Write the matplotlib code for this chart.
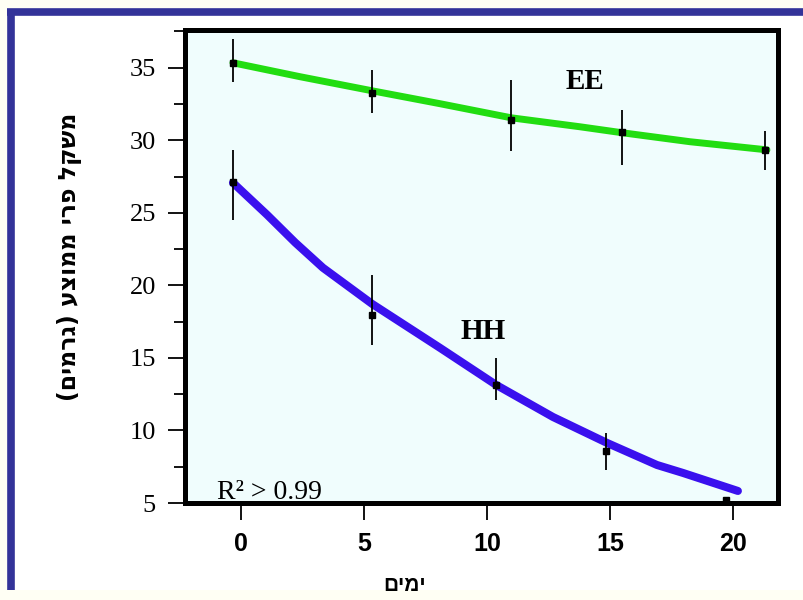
import matplotlib
matplotlib.use("Agg")
import matplotlib.pyplot as plt
from matplotlib.lines import Line2D
from matplotlib.ticker import MultipleLocator

# ---- data ----
ee_days = [-0.33, 5.33, 10.98, 15.5, 21.3]
ee_vals = [35.34, 33.28, 31.41, 30.59, 29.34]
ee_err_lo = [1.31, 1.38, 2.14, 2.28, 1.38]
ee_err_hi = [1.66, 1.59, 2.76, 1.52, 1.31]

hh_days = [-0.33, 5.33, 10.37, 14.84, 19.7]
hh_vals = [27.14, 17.97, 13.14, 8.59, 5.2]
hh_err_lo = [2.62, 2.07, 1.03, 1.31, 0.0]
hh_err_hi = [2.21, 2.76, 1.86, 1.24, 0.0]

ee_fit_x = [-0.33, 2.40, 5.33, 8.09, 10.98, 13.78, 15.49, 18.25, 21.38]
ee_fit_y = [35.34, 34.38, 33.41, 32.52, 31.55, 30.93, 30.52, 29.90, 29.34]

hh_fit_x = [-0.33, 1.06, 2.20, 3.33, 5.33, 8.09, 10.37, 12.68, 14.88, 16.91, 17.97, 20.20]
hh_fit_y = [27.07, 24.86, 22.95, 21.21, 18.72, 15.69, 13.14, 10.93, 9.14, 7.62, 7.07, 5.83]

x_ticks = [0, 5, 10, 15, 20]
y_ticks = [5, 10, 15, 20, 25, 30, 35]

y_label = "משקל פרי ממוצע (גרמים)"
x_label = "ימים"
r2_text = "R² > 0.99"


def visual(s):
    """Logical RTL Hebrew -> visual LTR order for matplotlib."""
    swap = {"(": ")", ")": "("}
    return "".join(swap.get(c, c) for c in s[::-1])


fig = plt.figure(figsize=(8.04, 6.0), dpi=100, facecolor="#fffff4")
# inner white panel
fig.patches.append(plt.Rectangle((15 / 804, 10 / 600), 1.0, 575 / 600,
                                 transform=fig.transFigure, facecolor="white",
                                 edgecolor="none", zorder=-5))
# navy frame (left and top)
navy = "#333399"
fig.add_artist(Line2D([11 / 804, 11 / 804], [10 / 600, 588.5 / 600],
                      transform=fig.transFigure, color=navy, lw=5.5,
                      solid_capstyle="butt", zorder=-4))
fig.add_artist(Line2D([7 / 804, 1.0], [588.5 / 600, 588.5 / 600],
                      transform=fig.transFigure, color=navy, lw=5.5,
                      solid_capstyle="butt", zorder=-4))

ax = fig.add_axes([185 / 804, 97 / 600, (778 - 185) / 804, (503 - 30) / 600])
ax.set_zorder(1)
ax.set_facecolor("#f0fdfd")
ax.set_xlim(-2.28, 21.83)
ax.set_ylim(5, 37.6)

for sp in ax.spines.values():
    sp.set_linewidth(3.6)
    sp.set_color("black")

ax.plot(ee_fit_x, ee_fit_y, color="#22dd11", lw=5.0, solid_capstyle="round",
        solid_joinstyle="round", zorder=3)
ax.plot(hh_fit_x, hh_fit_y, color="#3a10ee", lw=5.8, solid_capstyle="round",
        solid_joinstyle="round", zorder=3)

ax.errorbar(ee_days, ee_vals, yerr=[ee_err_lo, ee_err_hi], fmt="s", color="black",
            ms=4.5, elinewidth=1.3, capsize=0, zorder=4, clip_on=False)
ax.errorbar(hh_days, hh_vals, yerr=[hh_err_lo, hh_err_hi], fmt="s", color="black",
            ms=4.5, elinewidth=1.3, capsize=0, zorder=4, clip_on=False)

ax.set_xticks(x_ticks)
ax.set_yticks(y_ticks)
ax.yaxis.set_minor_locator(MultipleLocator(2.5))
ax.tick_params(axis="y", which="major", direction="out", length=12, width=1.3,
               pad=9, labelsize=19)
ax.tick_params(axis="y", which="minor", direction="out", length=8, width=1.3)
ax.tick_params(axis="x", which="major", direction="out", length=12, width=1.3,
               pad=9, labelsize=18)
for lab in ax.get_yticklabels():
    lab.set_fontfamily("Liberation Serif")
for lab in ax.get_xticklabels():
    lab.set_fontfamily("Liberation Sans")
    lab.set_fontweight("bold")

ax.text(13.98, 34.03, "EE", fontsize=21, fontweight="bold",
        family="Liberation Serif", ha="center", va="center", zorder=5)
ax.text(9.84, 16.79, "HH", fontsize=21, fontweight="bold",
        family="Liberation Serif", ha="center", va="center", zorder=5)
ax.text(-0.98, 5.3, r2_text, fontsize=20, family="Liberation Serif",
        ha="left", va="baseline", zorder=5)

fig.text(0.087, 0.572, visual(y_label), rotation=90, ha="center", va="center",
         fontsize=17, fontweight="bold", family=["DejaVu Sans", "Liberation Sans"])
ax.set_xlabel(visual(x_label), fontsize=15, fontweight="bold",
              family=["Liberation Sans", "DejaVu Sans"], labelpad=6)
ax.xaxis.set_label_coords(0.37, -0.155)

fig.savefig("out.png", dpi=100, facecolor=fig.get_facecolor())
